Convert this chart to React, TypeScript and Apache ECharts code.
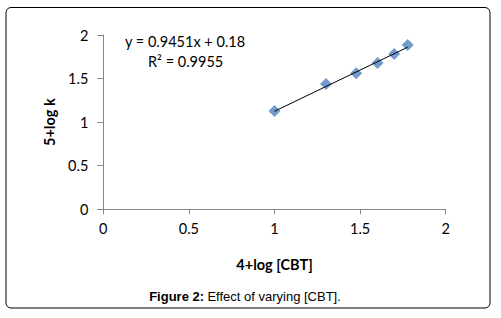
import React, { useEffect, useRef } from "react";
import * as echarts from "echarts";

const xValues = [1.0, 1.301, 1.477, 1.602, 1.699, 1.778];
const yValues = [1.128, 1.438, 1.562, 1.679, 1.782, 1.885];
const trendX = [1.0, 1.778];
const trendY = [1.125, 1.86];
const tickLabels = ["0", "0.5", "1", "1.5", "2"];
const equation = "y = 0.9451x + 0.18";
const rSquared = "R² = 0.9955";

export default function App() {
  const ref = useRef<HTMLDivElement>(null);
  useEffect(() => {
    if (!ref.current) return;
    const chart = echarts.init(ref.current, null, { renderer: "svg" });
    const font = "Lato, 'Open Sans', sans-serif";
    const axisColor = "#868686";
    chart.setOption({
      animation: false,
      backgroundColor: "#ffffff",
      grid: { left: 103.3, right: 55.3, top: 35, bottom: 108.7 },
      xAxis: {
        type: "value",
        min: 0,
        max: 2,
        interval: 0.5,
        name: "4+log [CBT]",
        nameLocation: "middle",
        nameGap: 48,
        nameTextStyle: { fontFamily: font, fontSize: 14.5, fontWeight: "bold", color: "#000" },
        axisLine: { show: true, lineStyle: { color: axisColor, width: 1 } },
        axisTick: { show: true, length: 5, lineStyle: { color: axisColor } },
        splitLine: { show: false },
        axisLabel: {
          fontFamily: font,
          fontSize: 14.5,
          color: "#000",
          margin: 12,
          formatter: (v: number) => tickLabels[Math.round(v * 2)] ?? String(v),
        },
      },
      yAxis: {
        type: "value",
        min: 0,
        max: 2,
        interval: 0.5,
        name: "5+log k",
        nameLocation: "middle",
        nameGap: 40,
        nameTextStyle: { fontFamily: font, fontSize: 14.5, fontWeight: "bold", color: "#000" },
        axisLine: { show: true, lineStyle: { color: axisColor, width: 1 } },
        axisTick: { show: true, inside: false, length: 6, lineStyle: { color: axisColor } },
        splitLine: { show: false },
        axisLabel: {
          fontFamily: font,
          fontSize: 14.5,
          color: "#000",
          margin: 15,
          formatter: (v: number) => tickLabels[Math.round(v * 2)] ?? String(v),
        },
      },
      series: [
        {
          type: "line",
          data: trendX.map((x, i) => [x, trendY[i]]),
          showSymbol: false,
          symbol: "none",
          lineStyle: { color: "#000", width: 1 },
          z: 3,
        },
        {
          type: "scatter",
          data: xValues.map((x, i) => [x, yValues[i]]),
          symbol: "diamond",
          symbolSize: 12,
          itemStyle: { color: "#4F81BD" },
          z: 2,
        },
      ],
      graphic: [
        {
          type: "rect",
          shape: { x: 6, y: 7.5, width: 484, height: 300.5, r: 5 },
          style: { fill: "none", stroke: "#000", lineWidth: 1 },
          z: -1,
        },
        {
          type: "text",
          left: 125,
          top: 34,
          style: { text: equation, fontFamily: font, fontSize: 14.5, fill: "#000" },
        },
        {
          type: "text",
          left: 148,
          top: 54,
          style: { text: rSquared, fontFamily: font, fontSize: 14.5, fill: "#000" },
        },
        {
          type: "text",
          x: 245,
          y: 296,
          style: {
            text: "{b|Figure 2:} {n|Effect of varying [CBT].}",
            align: "center",
            verticalAlign: "middle",
            rich: {
              b: { fontFamily: "'Liberation Sans', Arial, sans-serif", fontSize: 13, fontWeight: "bold", fill: "#000" },
              n: { fontFamily: "'Liberation Sans', Arial, sans-serif", fontSize: 13, fill: "#000" },
            },
          },
        },
      ],
    });
    return () => chart.dispose();
  }, []);
  return (
    <div
      ref={ref}
      style={{ position: "fixed", left: 0, top: 0, width: 501, height: 318, background: "#fff" }}
    />
  );
}
